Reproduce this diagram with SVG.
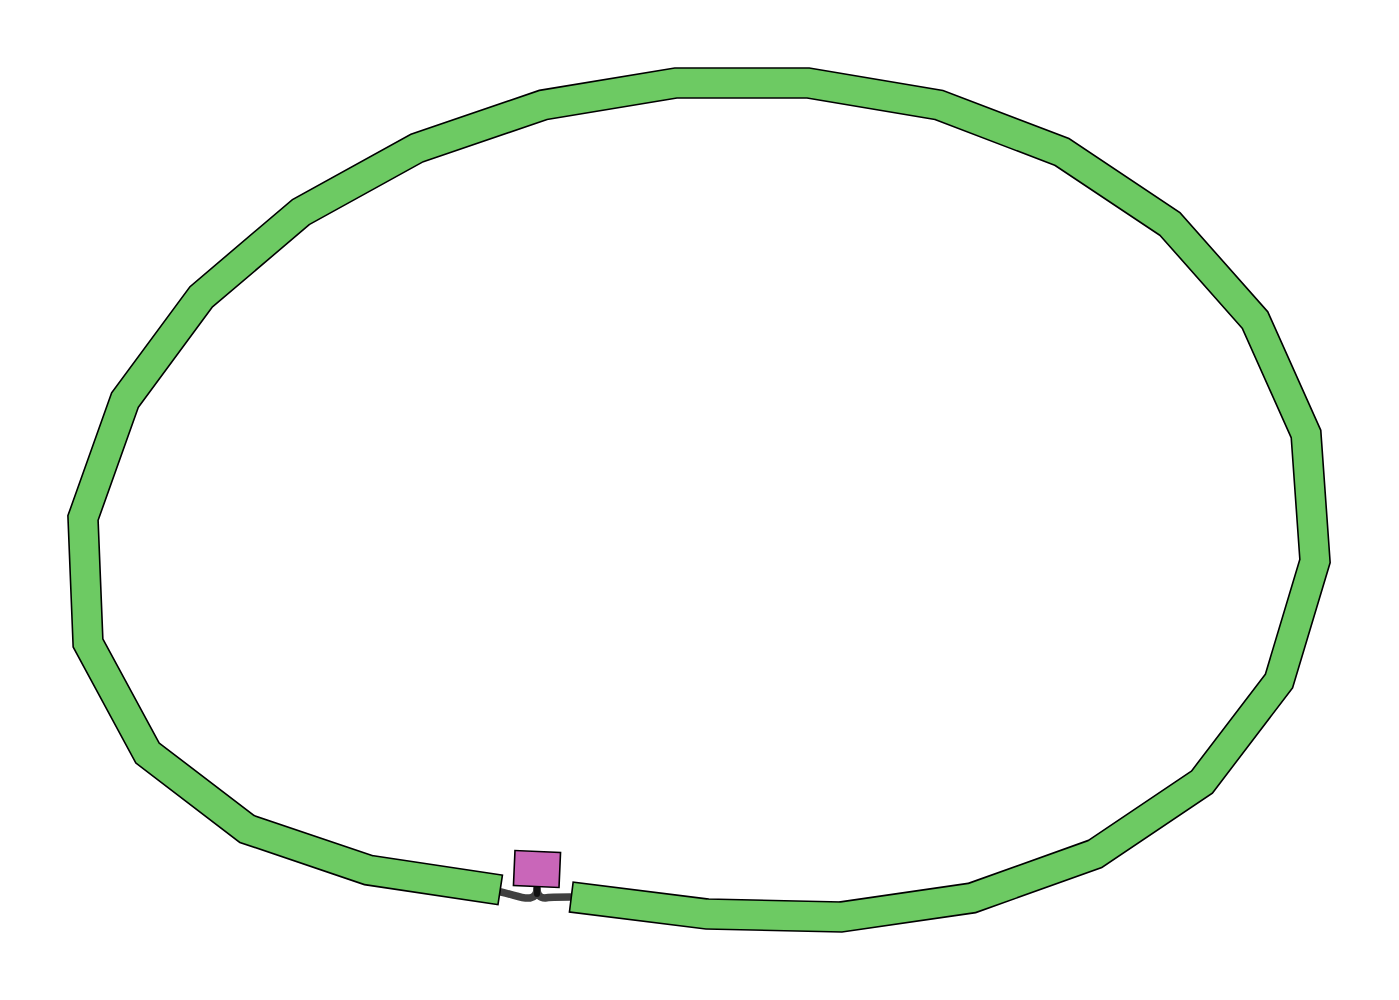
<svg xmlns="http://www.w3.org/2000/svg" width="1399" height="1000" viewBox="0 0 1399 1000">
<style>
.out{fill:none;stroke:#000;stroke-width:31.6;stroke-linejoin:miter;stroke-miterlimit:10;stroke-linecap:butt}
.in{fill:none;stroke:#6dca63;stroke-width:28.4;stroke-linejoin:miter;stroke-miterlimit:10;stroke-linecap:butt}
.link{fill:none;stroke:#404040;stroke-width:7.5;stroke-linecap:round;stroke-linejoin:round}
</style>
<rect width="1399" height="1000" fill="#fff"/>
<g id="connectors">
<path class="link" d="M501,892 C515,895 522,899 530,898 C535,897 537,894 537,889"/>
<path class="link" d="M570,897 C558,897 550,897 545,898 C540,898 537,895 537,889"/>
<line x1="537" y1="886" x2="537" y2="894" stroke="#111" stroke-width="6" stroke-linecap="round"/>
</g>
<g id="ring">
<path class="out" d="M570.5,897 L707,914 L841,917 L972,898 L1095,854 L1202,782 L1279,681 L1315,561 L1306,434 L1255,320 L1170,224 L1062,152 L939,105 L808,83 L676,83 L543,105 L417,148 L301,212 L201,297 L125,400 L83,518 L88,643 L147.5,753 L247,829 L368,870 L501,890"/>
<path class="in" d="M572.1,897.2 L707,914 L841,917 L972,898 L1095,854 L1202,782 L1279,681 L1315,561 L1306,434 L1255,320 L1170,224 L1062,152 L939,105 L808,83 L676,83 L543,105 L417,148 L301,212 L201,297 L125,400 L83,518 L88,643 L147.5,753 L247,829 L368,870 L499.4,889.8"/>
</g>
<g id="node">
<rect x="-22.8" y="-17.5" width="45.6" height="35" transform="translate(537,869) rotate(2.5)" fill="#c966b9" stroke="#000" stroke-width="1.6"/>
</g>
</svg>
